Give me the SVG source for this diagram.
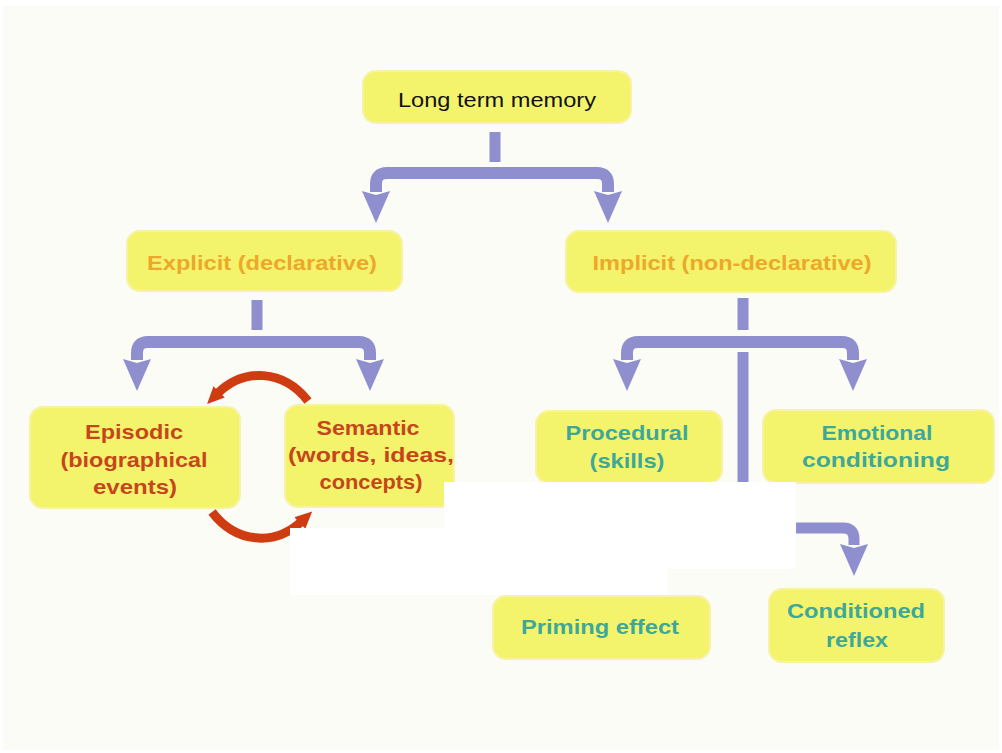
<svg xmlns="http://www.w3.org/2000/svg" width="1002" height="753" viewBox="0 0 1002 753">
<style>
.box{fill:#f4f46c;stroke:#f7f2a4;stroke-width:2}
.t{font-family:"Liberation Sans",Arial,sans-serif;font-size:21px;text-anchor:middle}
.b{font-weight:bold}
.org{fill:#eca82a}
.red{fill:#c6461c}
.teal{fill:#3ea898}
.con{fill:none;stroke:#8f8fd0;stroke-width:12}
.stub{fill:none;stroke:#8f8fd0;stroke-width:11}
.arc{fill:none;stroke:#d03c12;stroke-width:9}
</style>
<defs>
<marker id="ah" markerUnits="userSpaceOnUse" markerWidth="34" markerHeight="30" viewBox="0 0 34 30" refX="1" refY="15" orient="auto">
<path d="M0,1 L32,15 L0,29 L4,15 z" fill="#8f8fd0"/>
</marker>
<marker id="rh" markerUnits="userSpaceOnUse" markerWidth="18" markerHeight="18" viewBox="0 0 18 18" refX="3" refY="9" orient="auto">
<path d="M0,1 L17,9 L0,17 z" fill="#d03c12"/>
</marker>
</defs>
<rect x="0" y="0" width="1002" height="753" fill="#ffffff"/>
<rect x="3" y="6" width="996" height="744" fill="#fbfcf6"/>

<g id="connectors">
<path class="stub" d="M495 132 V162"/>
<path class="con" marker-end="url(#ah)" d="M495 173 H387 Q376 173 376 184 V192"/>
<path class="con" marker-end="url(#ah)" d="M495 173 H597 Q608 173 608 184 V192"/>
<path class="stub" d="M257 300 V330"/>
<path class="con" marker-end="url(#ah)" d="M257 342 H148 Q137 342 137 353 V360"/>
<path class="con" marker-end="url(#ah)" d="M257 342 H359 Q370 342 370 353 V360"/>
<path class="stub" d="M743 298 V330"/>
<path class="con" marker-end="url(#ah)" d="M743 342 H638 Q627 342 627 353 V360"/>
<path class="con" marker-end="url(#ah)" d="M743 342 H842 Q853 342 853 353 V360"/>
<path class="stub" d="M743 352 V528 H843 Q854 528 854 539 V545" marker-end="url(#ah)"/>
<path class="arc" marker-end="url(#rh)" d="M308 401 A67 82 0 0 0 217 394"/>
<path class="arc" marker-end="url(#rh)" d="M212 512 A67 82 0 0 0 302 521"/>
</g>

<g id="ltm">
<rect class="box" x="363" y="71" width="268" height="52" rx="13"/>
<text class="t" x="497" y="107" textLength="198" lengthAdjust="spacingAndGlyphs" fill="#111">Long term memory</text>
</g>
<g id="explicit">
<rect class="box" x="127" y="231" width="275" height="60" rx="13"/>
<text class="t b org" x="262" y="270" textLength="230" lengthAdjust="spacingAndGlyphs">Explicit (declarative)</text>
</g>
<g id="implicit">
<rect class="box" x="566" y="231" width="330" height="61" rx="13"/>
<text class="t b org" x="732" y="270" textLength="279" lengthAdjust="spacingAndGlyphs">Implicit (non-declarative)</text>
</g>
<g id="episodic">
<rect class="box" x="30" y="407" width="210" height="101" rx="13"/>
<text class="t b red" x="134" y="439" textLength="98" lengthAdjust="spacingAndGlyphs">Episodic</text>
<text class="t b red" x="134" y="467" textLength="147" lengthAdjust="spacingAndGlyphs">(biographical</text>
<text class="t b red" x="135" y="494" textLength="84" lengthAdjust="spacingAndGlyphs">events)</text>
</g>
<g id="semantic">
<rect class="box" x="285" y="405" width="169" height="102" rx="13"/>
<text class="t b red" x="368" y="435" textLength="103" lengthAdjust="spacingAndGlyphs">Semantic</text>
<text class="t b red" x="371" y="462" textLength="166" lengthAdjust="spacingAndGlyphs">(words, ideas,</text>
<text class="t b red" x="371" y="489" textLength="103" lengthAdjust="spacingAndGlyphs">concepts)</text>
</g>
<g id="procedural">
<rect class="box" x="536" y="411" width="186" height="72" rx="13"/>
<text class="t b teal" x="627" y="440" textLength="123" lengthAdjust="spacingAndGlyphs">Procedural</text>
<text class="t b teal" x="627" y="468" textLength="75" lengthAdjust="spacingAndGlyphs">(skills)</text>
</g>
<g id="emotional">
<rect class="box" x="763" y="410" width="231" height="73" rx="13"/>
<text class="t b teal" x="877" y="440" textLength="111" lengthAdjust="spacingAndGlyphs">Emotional</text>
<text class="t b teal" x="876" y="467" textLength="148" lengthAdjust="spacingAndGlyphs">conditioning</text>
</g>

<rect x="444" y="482" width="352" height="87" fill="#ffffff"/>
<rect x="290" y="528" width="378" height="67" fill="#ffffff"/>

<g id="priming">
<rect class="box" x="493" y="596" width="217" height="63" rx="13"/>
<text class="t b teal" x="600" y="634" textLength="158" lengthAdjust="spacingAndGlyphs">Priming effect</text>
</g>
<g id="conditioned">
<rect class="box" x="769" y="589" width="175" height="73" rx="13"/>
<text class="t b teal" x="856" y="618" textLength="138" lengthAdjust="spacingAndGlyphs">Conditioned</text>
<text class="t b teal" x="857" y="647" textLength="62" lengthAdjust="spacingAndGlyphs">reflex</text>
</g>
</svg>
